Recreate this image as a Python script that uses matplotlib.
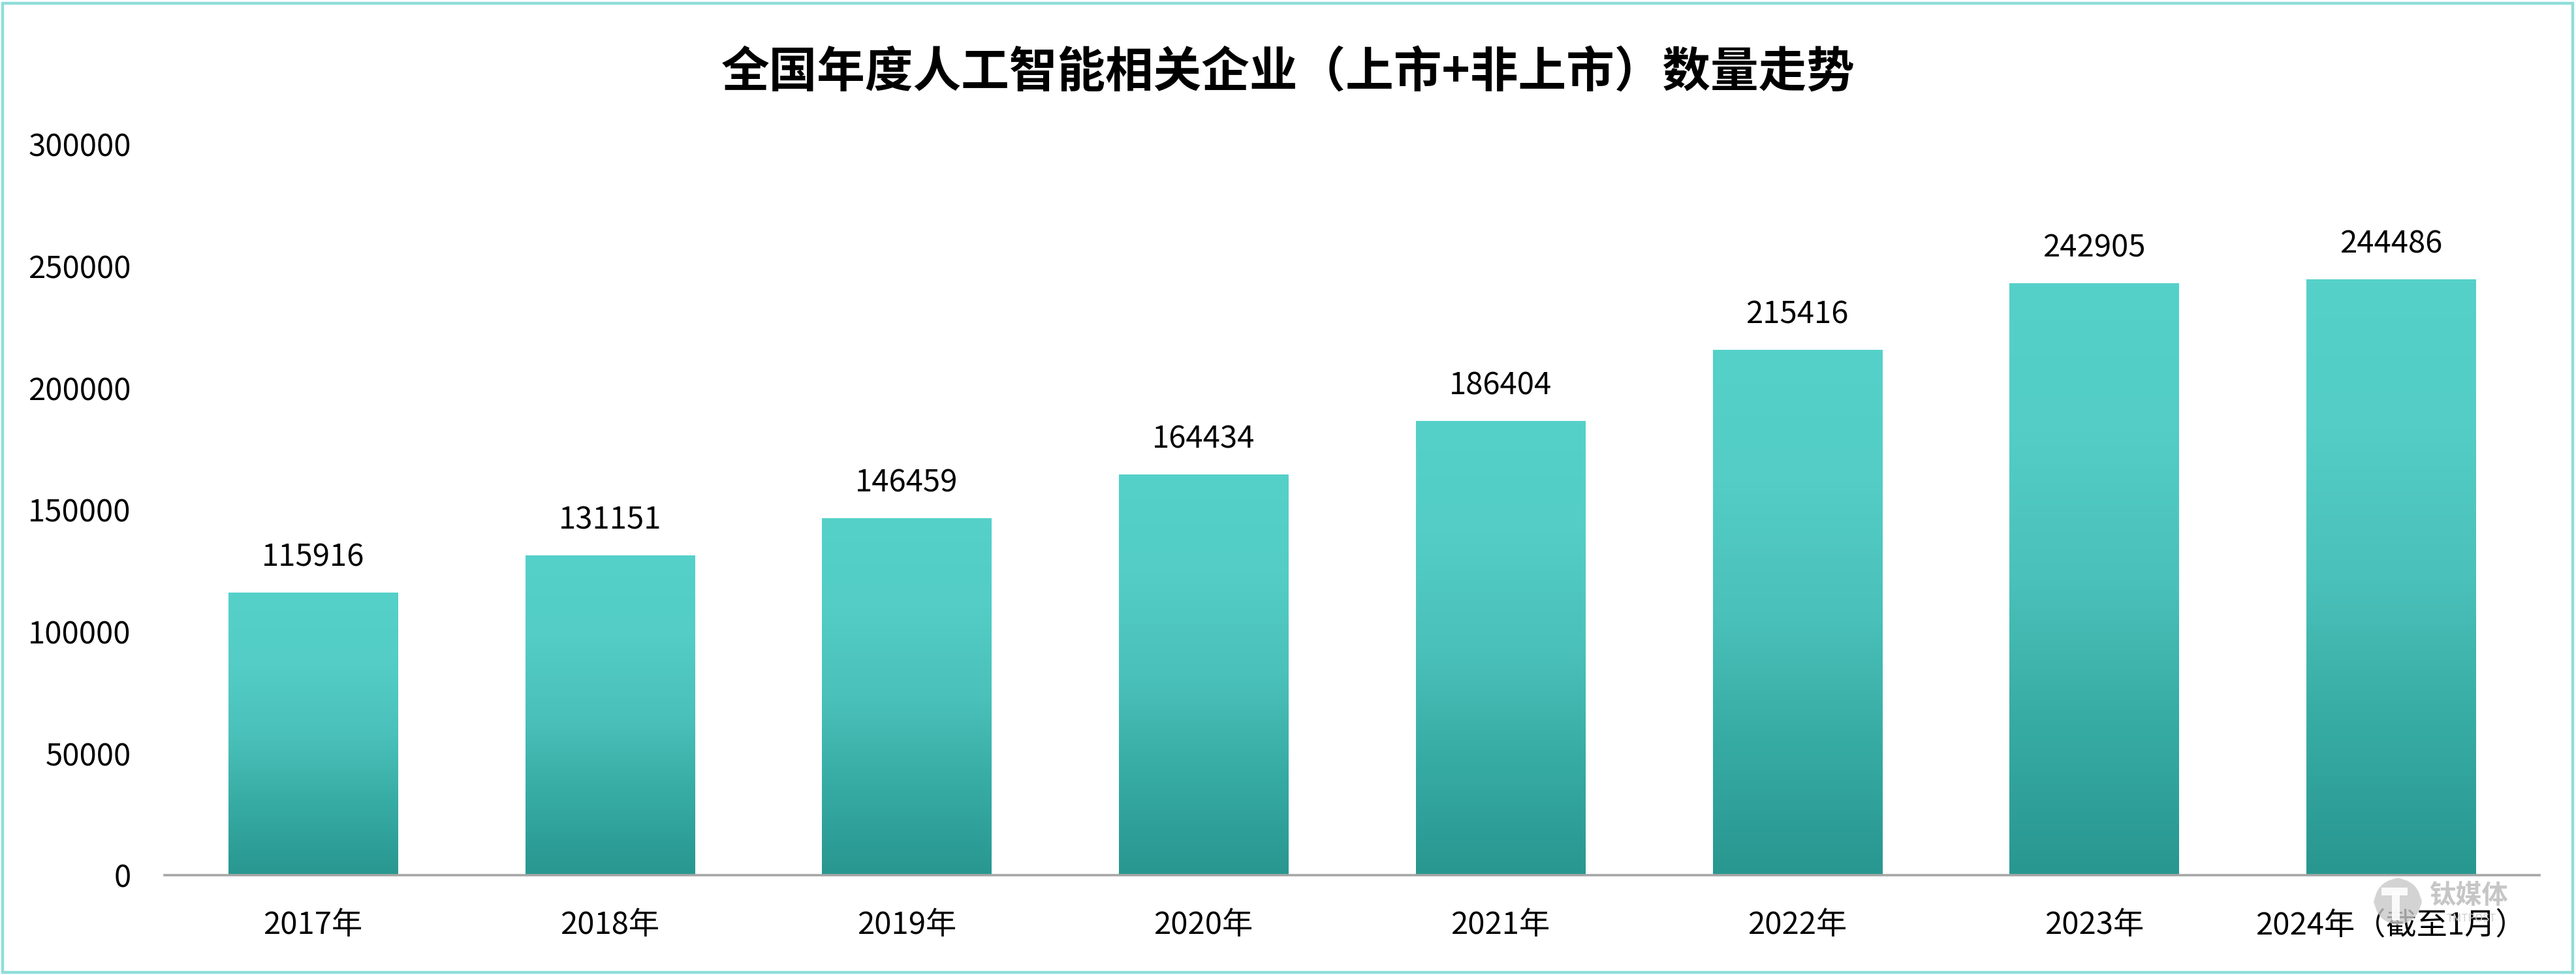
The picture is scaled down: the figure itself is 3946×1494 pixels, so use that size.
import matplotlib
matplotlib.use("Agg")
import matplotlib.pyplot as plt
import numpy as np
from matplotlib.colors import LinearSegmentedColormap
from matplotlib.patches import Rectangle, FancyBboxPatch

plt.rcParams['font.family'] = ['Noto Sans CJK SC', 'DejaVu Sans']

categories = ["2017年", "2018年", "2019年", "2020年", "2021年", "2022年", "2023年", "2024年（截至1月）"]
values = [115916, 131151, 146459, 164434, 186404, 215416, 242905, 244486]
yticks = [0, 50000, 100000, 150000, 200000, 250000, 300000]
title = "全国年度人工智能相关企业（上市+非上市）数量走势"

W, H = 3946, 1494
DPI = 100
fig = plt.figure(figsize=(W / DPI, H / DPI), dpi=DPI)
fig.patch.set_facecolor("white")

ax = fig.add_axes([252 / W, 153 / H, (3890 - 252) / W, (1341 - 221) / H])
ax.set_xlim(-0.5, len(categories) - 0.5)
ax.set_ylim(0, 300000)

cmap = LinearSegmentedColormap.from_list(
    "teal",
    [(0.0, "#289790"), (0.25, "#36ABA4"), (0.5, "#4AC1BA"), (0.75, "#53CDC6"), (1.0, "#55D1CA")],
)
grad = np.linspace(0, 1, 256).reshape(-1, 1)

bar_w = 0.57
bars = ax.bar(range(len(values)), values, width=bar_w, color="none", edgecolor="none", zorder=2)
for b in bars:
    x0 = b.get_x()
    h = b.get_height()
    ax.imshow(grad, cmap=cmap, origin="lower", aspect="auto",
              extent=[x0, x0 + b.get_width(), 0, h], zorder=2, interpolation="bicubic")
    ax.annotate(f"{int(h)}", xy=(b.get_x() + b.get_width() / 2, h), xytext=(0, 39),
                textcoords="offset points", ha="center", va="center", fontsize=34, color="black")

ax.set_xticks(range(len(categories)))
ax.set_xticklabels(categories, fontsize=34)
ax.set_yticks(yticks)
ax.set_yticklabels([str(v) for v in yticks], fontsize=34)
ax.tick_params(axis="x", length=0, pad=38)
ax.tick_params(axis="y", length=0, pad=37)
for s in ["top", "right", "left"]:
    ax.spines[s].set_visible(False)
ax.spines["bottom"].set_color("#A6A6A6")
ax.spines["bottom"].set_linewidth(2.6)
ax.spines["bottom"].set_zorder(3)

fig.text(0.5, (H - 111) / H, title, ha="center", va="center", fontsize=53, fontweight="bold", color="black")

# border
fig.patches.append(Rectangle((4 / W, 4 / H), (W - 9) / W, (H - 9) / H, transform=fig.transFigure,
                             fill=False, edgecolor="#8EDED9", linewidth=3.2, zorder=10))

# watermark (logo drawn as shapes, text in grey)
fig.patches.append(FancyBboxPatch((3636 / W, (H - 1418) / H), 74 / W, 73 / H,
                                  boxstyle="round,pad=0,rounding_size=0.012", transform=fig.transFigure,
                                  facecolor="#C9C9C9", edgecolor="none", alpha=0.8, zorder=0.5,
                                  mutation_aspect=W / H))
fig.patches.append(Rectangle((3648 / W, (H - 1372) / H), 40 / W, 12 / H, transform=fig.transFigure,
                             facecolor="white", edgecolor="none", alpha=0.9, zorder=0.6))
fig.patches.append(Rectangle((3664 / W, (H - 1410) / H), 12 / W, 44 / H, transform=fig.transFigure,
                             facecolor="white", edgecolor="none", alpha=0.9, zorder=0.6))
fig.text(3782 / W, (H - 1372) / H, "钛媒体", ha="center", va="center", fontsize=29, fontweight="bold",
         color="#C6C6C6", zorder=0.5)
fig.text(3786 / W, (H - 1408) / H, "TMTPOST", ha="center", va="center", fontsize=12,
         color="#D0D0D0", zorder=0.5)

fig.savefig("out.png", dpi=DPI, facecolor="white")
